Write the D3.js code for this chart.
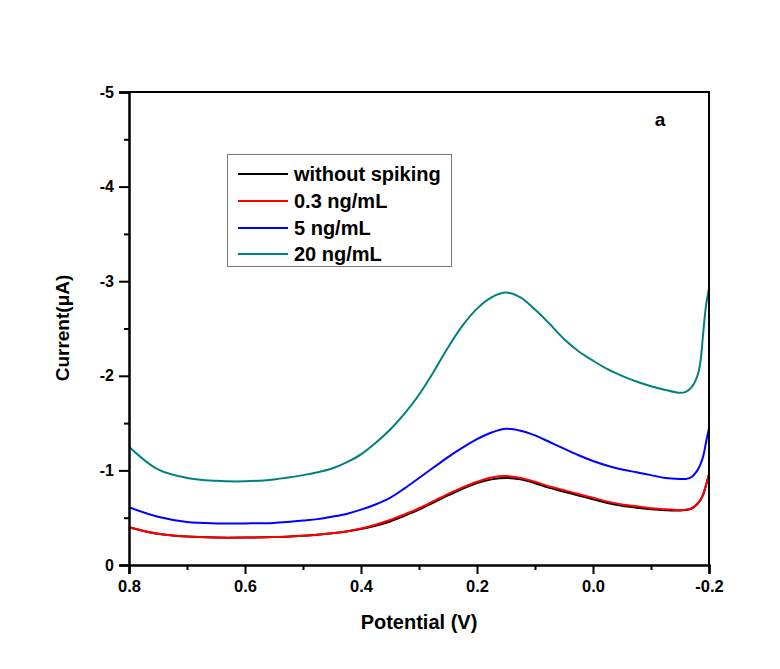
<!DOCTYPE html>
<html>
<head>
<meta charset="utf-8">
<script src="https://cdn.jsdelivr.net/npm/d3@7/dist/d3.min.js"></script>
<style>
  body { margin: 0; background: #fff; }
  text { font-family: "Liberation Sans", Arial, sans-serif; font-weight: bold; }
</style>
</head>
<body>
<svg id="chart" width="780" height="669"></svg>
<script>
const potential = [0.8, 0.75, 0.7, 0.65, 0.6, 0.55, 0.5, 0.475, 0.45, 0.425, 0.4, 0.375, 0.35, 0.325, 0.3, 0.275, 0.25, 0.225, 0.2, 0.175, 0.15, 0.125, 0.1, 0.075, 0.05, 0.025, 0.0, -0.025, -0.05, -0.075, -0.1, -0.125, -0.15, -0.16, -0.17, -0.18, -0.185, -0.19, -0.195, -0.2];

const withoutSpiking = [-0.40, -0.33, -0.30, -0.29, -0.29, -0.295, -0.31, -0.32, -0.335, -0.355, -0.38, -0.415, -0.46, -0.52, -0.585, -0.66, -0.735, -0.805, -0.865, -0.905, -0.92, -0.905, -0.865, -0.815, -0.775, -0.735, -0.695, -0.655, -0.625, -0.605, -0.59, -0.58, -0.575, -0.58, -0.595, -0.645, -0.685, -0.745, -0.845, -0.96];
const spike03 = [-0.40, -0.33, -0.30, -0.29, -0.29, -0.295, -0.31, -0.32, -0.335, -0.355, -0.385, -0.425, -0.475, -0.535, -0.60, -0.675, -0.75, -0.82, -0.88, -0.925, -0.94, -0.92, -0.88, -0.83, -0.79, -0.75, -0.71, -0.67, -0.64, -0.62, -0.60, -0.59, -0.58, -0.585, -0.60, -0.65, -0.69, -0.75, -0.85, -0.96];
const spike5 = [-0.61, -0.51, -0.455, -0.44, -0.44, -0.445, -0.47, -0.485, -0.51, -0.54, -0.585, -0.64, -0.71, -0.81, -0.92, -1.03, -1.14, -1.24, -1.33, -1.40, -1.44, -1.42, -1.37, -1.30, -1.23, -1.16, -1.10, -1.05, -1.01, -0.98, -0.95, -0.92, -0.91, -0.91, -0.93, -1.00, -1.06, -1.15, -1.30, -1.45];
const spike20 = [-1.25, -1.01, -0.92, -0.89, -0.885, -0.905, -0.95, -0.98, -1.02, -1.085, -1.17, -1.29, -1.43, -1.60, -1.80, -2.04, -2.30, -2.53, -2.71, -2.83, -2.88, -2.83, -2.70, -2.55, -2.39, -2.26, -2.16, -2.07, -2.00, -1.94, -1.89, -1.85, -1.82, -1.83, -1.88, -2.00, -2.14, -2.45, -2.75, -2.92];

const seriesNames = ["without spiking", "0.3 ng/mL", "5 ng/mL", "20 ng/mL"];
const seriesColors = ["#000000", "#ff0000", "#0000ff", "#008080"];
const seriesValues = [withoutSpiking, spike03, spike5, spike20];

const xTicks = [0.8, 0.6, 0.4, 0.2, 0.0, -0.2];
const xMinorTicks = [0.7, 0.5, 0.3, 0.1, -0.1];
const yTicks = [0, -1, -2, -3, -4, -5];
const yMinorTicks = [-0.5, -1.5, -2.5, -3.5, -4.5];

(function () {
const svg = d3.select("#chart");
const pL = 129, pR = 709, pT = 92, pB = 565;

const x = d3.scaleLinear().domain([0.8, -0.2]).range([pL, pR]);
const y = d3.scaleLinear().domain([0, -5]).range([pB, pT]);

// lines (teal, blue first, then black, red on top)
const line = d3.line().x(d => x(d[0])).y(d => y(d[1])).curve(d3.curveCatmullRom.alpha(0.5));
const drawOrder = [3, 2, 0, 1];
drawOrder.forEach(i => {
  svg.append("path")
    .datum(potential.map((p, k) => [p, seriesValues[i][k]]))
    .attr("fill", "none")
    .attr("stroke", seriesColors[i])
    .attr("stroke-width", 2)
    .attr("d", line);
});

// frame
svg.append("path")
  .attr("d", `M${pL},${pT}H${pR}V${pB}`)
  .attr("fill", "none").attr("stroke", "#000").attr("stroke-width", 2);

// x axis
const xAxis = d3.axisBottom(x).tickValues(xTicks).tickFormat(d => d.toFixed(1)).tickSize(9).tickPadding(6);
const gx = svg.append("g").attr("transform", `translate(0,${pB})`).call(xAxis);
gx.select(".domain").attr("stroke-width", 2.5);
gx.selectAll(".tick line").attr("stroke-width", 2);
gx.selectAll(".tick text").style("font-size", "16.5px").attr("fill", "#000");
const xMinor = d3.axisBottom(x).tickValues(xMinorTicks).tickSize(5).tickFormat("");
const gxm = svg.append("g").attr("transform", `translate(0,${pB})`).call(xMinor);
gxm.select(".domain").remove();
gxm.selectAll(".tick line").attr("stroke-width", 2);

// y axis
const yAxis = d3.axisLeft(y).tickValues(yTicks).tickFormat(d => String(d)).tickSize(10).tickPadding(5);
const gy = svg.append("g").attr("transform", `translate(${pL},0)`).call(yAxis);
gy.select(".domain").attr("stroke-width", 2.5);
gy.selectAll(".tick line").attr("stroke-width", 2);
gy.selectAll(".tick text").style("font-size", "16px").attr("fill", "#000");
const yMinor = d3.axisLeft(y).tickValues(yMinorTicks).tickSize(5).tickFormat("");
const gym = svg.append("g").attr("transform", `translate(${pL},0)`).call(yMinor);
gym.select(".domain").remove();
gym.selectAll(".tick line").attr("stroke-width", 2);

// axis titles
svg.append("text").attr("x", 419).attr("y", 629).attr("text-anchor", "middle")
  .style("font-size", "20px").text("Potential (V)");
svg.append("text").attr("transform", "translate(69,328) rotate(-90)").attr("text-anchor", "middle")
  .style("font-size", "19px").text("Current(μA)");

// panel label
svg.append("text").attr("x", 660).attr("y", 126).attr("text-anchor", "middle")
  .style("font-size", "19px").text("a");

// legend
const lg = svg.append("g");
lg.append("rect").attr("x", 227.5).attr("y", 154.5).attr("width", 224).attr("height", 112)
  .attr("fill", "#fff").attr("stroke", "#777").attr("stroke-width", 1);
const rowY = [174, 201, 228, 254];
seriesNames.forEach((name, i) => {
  lg.append("line").attr("x1", 238).attr("x2", 288).attr("y1", rowY[i]).attr("y2", rowY[i])
    .attr("stroke", seriesColors[i]).attr("stroke-width", 2);
  lg.append("text").attr("x", 294).attr("y", rowY[i] + 7).style("font-size", "20px").text(name);
});
})();
</script>
</body>
</html>
